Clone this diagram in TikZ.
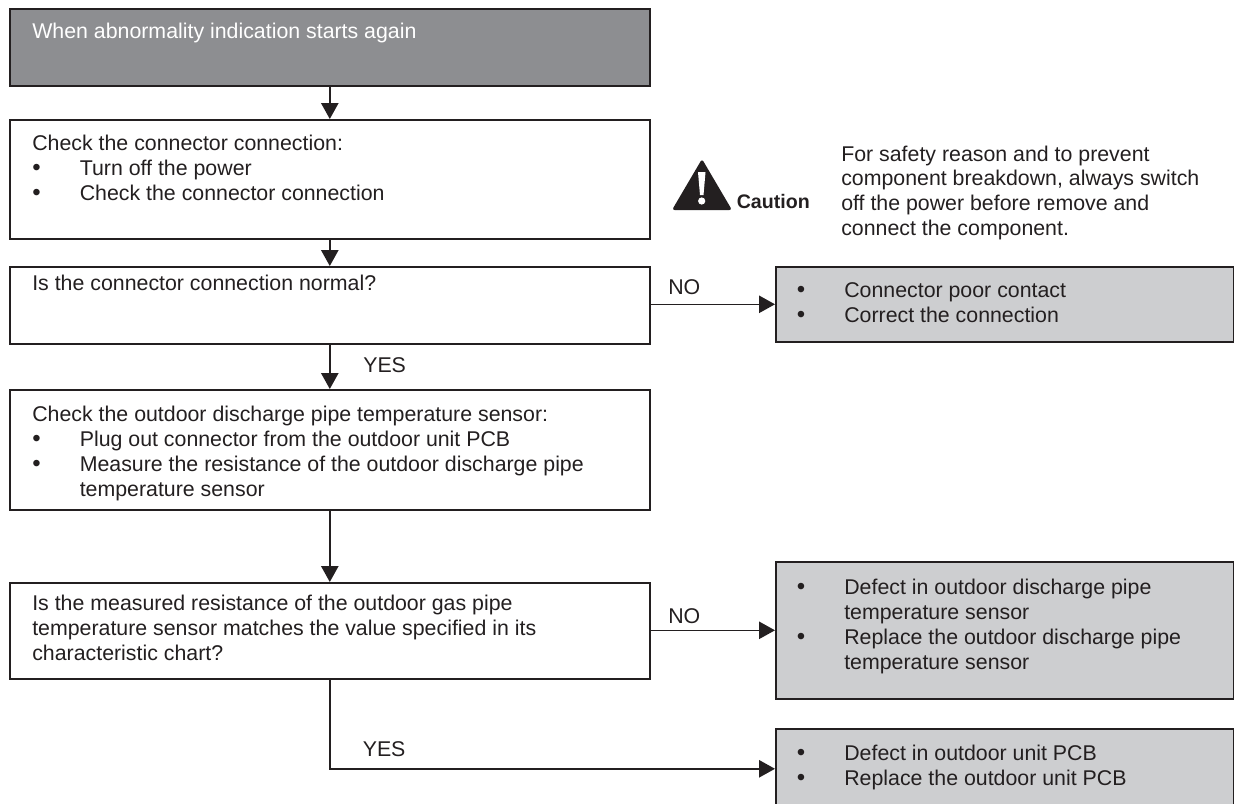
\documentclass[tikz,border=0pt]{standalone}
\usepackage{fontspec}
\setmainfont{Liberation Sans}
\usetikzlibrary{arrows.meta}
\definecolor{ink}{HTML}{231F20}
\definecolor{darkfill}{HTML}{8D8E91}
\definecolor{lightfill}{HTML}{CDCED0}
\newdimen\pxu \pxu=0.75pt
\newdimen\bulind
\newcommand{\bodyfont}{\fontsize{16}{18.75}\selectfont}
% #1 height, #2 width, #3 left pad, #4 first baseline offset, #5 content (all px)
\newcommand{\boxtext}[5]{\parbox[c][#1\pxu][t]{#2\pxu}{\bodyfont\raggedright\leftskip=#3\pxu\relax
  \vspace*{\dimexpr #4\pxu-\ht\strutbox\relax}#5}}
\newcommand{\firstline}[1]{\par\noindent\strut #1\par}
\newcommand{\bul}[1]{\par\noindent\hangindent=\bulind\hangafter=0\llap{\hbox to \bulind{\fontsize{18}{18.75}\selectfont •\hfil}}\strut #1\par}
\tikzset{
  flowbox/.style={draw=ink,line width=1.2pt,fill=white,inner sep=0pt,anchor=north west,text=ink},
  darkbox/.style={flowbox,fill=darkfill,text=white},
  greybox/.style={flowbox,fill=lightfill},
  flow/.style={draw=ink,line width=1.2pt,-{Triangle[length=12pt,width=13pt]}},
  lbl/.style={inner sep=0pt,anchor=base west,text=ink,font=\bodyfont},
  cautionlbl/.style={inner sep=0pt,anchor=base west,text=ink,font=\fontsize{14.7}{18}\selectfont\bfseries},
}
\begin{document}
\begin{tikzpicture}[x=0.75pt,y=-0.75pt]
\useasboundingbox (0,0) rectangle (1234,803);
\bulind=47.5\pxu
\node[darkbox] (b1) at (9,8) {\boxtext{77}{640}{22.5}{30}{\firstline{When abnormality indication starts again}}};
\node[flowbox] (b2) at (9,119) {\boxtext{119}{640}{22.5}{31}{\firstline{Check the connector connection:}\bul{Turn off the power}\bul{Check the connector connection}}};
\node[flowbox] (b3) at (9,266) {\boxtext{77}{640}{22.5}{24}{\firstline{Is the connector connection normal?}}};
\node[flowbox] (b4) at (9,389) {\boxtext{120}{640}{22.5}{32}{\firstline{Check the outdoor discharge pipe temperature sensor:}\bul{Plug out connector from the outdoor unit PCB}\bul{Measure the resistance of the outdoor discharge pipe\newline temperature sensor}}};
\node[flowbox] (b5) at (9,582) {\boxtext{96}{640}{22.5}{28}{\firstline{Is the measured resistance of the outdoor gas pipe\newline temperature sensor matches the value specified in its\newline characteristic chart?}}};
\node[greybox] (g1) at (775,266) {\boxtext{75}{458}{21}{31}{\bul{Connector poor contact}\bul{Correct the connection}}};
\node[greybox] (g2) at (775,561) {\boxtext{137}{458}{21}{33}{\bul{Defect in outdoor discharge pipe\newline temperature sensor}\bul{Replace the outdoor discharge pipe\newline temperature sensor}}};
\node[greybox] (g3) at (775,728) {\boxtext{80}{458}{21}{32}{\bul{Defect in outdoor unit PCB}\bul{Replace the outdoor unit PCB}}};
\draw[flow] (b1) -- (b2);
\draw[flow] (b2) -- (b3);
\draw[flow] (b3) -- (b4);
\draw[flow] (b4) -- (b5);
\draw[flow] (g1.west -| b3.east) -- (g1.west);
\draw[flow] (g2.west -| b5.east) -- (g2.west);
\draw[flow] (b5.south) |- (g3.west);
\node[lbl] (no1) at (668,294) {NO};
\node[lbl] (yes1) at (363,372) {YES};
\node[lbl] (no2) at (668,623) {NO};
\node[lbl] (yes2) at (362.5,756) {YES};
% caution sign
\fill[ink,rounded corners=2pt] (702,159) -- (732,210) -- (672,210) -- cycle;
\fill[white] (698,172) -- (705.5,172) -- (703.5,195) -- (700,195) -- cycle;
\fill[white] (701.7,201) circle (3.6);
\node[cautionlbl] (caution) at (736.5,208) {Caution};
\node[lbl] (c1) at (841,161) {For safety reason and to prevent};
\node[lbl] (c2) at (841,185.5) {component breakdown, always switch};
\node[lbl] (c3) at (841,210) {off the power before remove and};
\node[lbl] (c4) at (841,235) {connect the component.};
\end{tikzpicture}
\end{document}
